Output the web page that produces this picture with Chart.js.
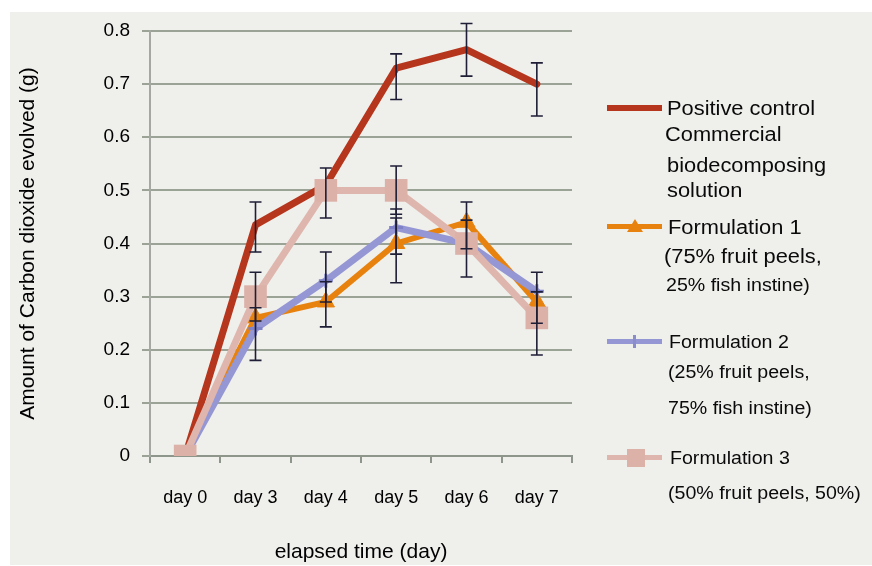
<!DOCTYPE html>
<html><head><meta charset="utf-8">
<script src="https://cdn.jsdelivr.net/npm/chart.js@4/dist/chart.umd.min.js"></script>
<style>
html,body{margin:0;padding:0;background:#fff;}
#wrap{position:relative;width:872px;height:566px;overflow:hidden;}
#bg{position:absolute;left:10px;top:12px;width:862px;height:553px;background:#efefec;}
canvas{position:absolute;left:0;top:0;}
.lg{position:absolute;font-family:"Liberation Sans",Arial,sans-serif;color:#0a0a0a;white-space:nowrap;transform:scaleX(1.12);transform-origin:0 50%;line-height:24px;height:24px;}
.sym{position:absolute;}
</style></head><body>
<div id="wrap"><div id="bg"></div><canvas id="c" width="872" height="566"></canvas><div id="legend"></div></div>
<script>
// ---- data ----
const categories = ['day 0', 'day 3', 'day 4', 'day 5', 'day 6', 'day 7'];
const yTickLabels = ['0', '0.1', '0.2', '0.3', '0.4', '0.5', '0.6', '0.7', '0.8'];

const positiveControl = [0, 0.435, 0.51, 0.73, 0.765, 0.70];
const positiveLow     = [null, 0.384, null, 0.671, 0.715, 0.64];
const positiveHigh    = [null, 0.478, null, 0.757, 0.814, 0.74];

const formulation1     = [0, 0.26, 0.29, 0.40, 0.44, 0.29];
const formulation1Low  = [null, null, 0.243, 0.326, 0.39, null];
const formulation1High = [null, null, 0.328, 0.448, 0.478, null];

const formulation2     = [0, 0.24, 0.33, 0.43, 0.40, 0.31];
const formulation2Low  = [null, 0.18, 0.29, 0.38, null, 0.25];
const formulation2High = [null, 0.279, 0.384, 0.465, null, 0.346];

const formulation3     = [0, 0.30, 0.50, 0.50, 0.40, 0.26];
const formulation3Low  = [null, 0.254, 0.448, 0.455, 0.337, 0.19];
const formulation3High = [null, 0.346, 0.542, 0.546, 0.444, 0.309];

const legendPositive = ['Positive control', 'Commercial', 'biodecomposing', 'solution'];
const legendF1 = ['Formulation 1', '(75% fruit peels,', '25% fish instine)'];
const legendF2 = ['Formulation 2', '(25% fruit peels,', '75% fish instine)'];
const legendF3 = ['Formulation 3', '(50% fruit peels, 50%)'];

const xTitle = 'elapsed time (day)';
const yTitle = 'Amount of Carbon dioxide evolved (g)';

// ---- styling ----
const FAMILY = '"Liberation Sans", Arial, sans-serif';
const C_RED = '#b5361c', C_ORANGE = '#e8820f', C_BLUE = '#9597d5', C_PINK = '#dfb6ad';

const errSets = [
  {low: positiveLow, high: positiveHigh},
  {low: formulation1Low, high: formulation1High},
  {low: formulation2Low, high: formulation2High},
  {low: formulation3Low, high: formulation3High}
];

const errorBarPlugin = {
  id: 'errbars',
  afterDatasetsDraw(chart) {
    const {ctx, scales: {x, y}} = chart;
    ctx.save();
    ctx.strokeStyle = '#1e1e36';
    ctx.lineWidth = 1.6;
    errSets.forEach(s => {
      s.low.forEach((lo, i) => {
        const hi = s.high[i];
        if (lo == null || hi == null) return;
        const px = x.getPixelForValue(i);
        const y1 = y.getPixelForValue(lo), y2 = y.getPixelForValue(hi);
        ctx.beginPath();
        ctx.moveTo(px, y1); ctx.lineTo(px, y2);
        ctx.moveTo(px - 6, y1); ctx.lineTo(px + 6, y1);
        ctx.moveTo(px - 6, y2); ctx.lineTo(px + 6, y2);
        ctx.stroke();
      });
    });
    ctx.restore();
  }
};

new Chart(document.getElementById('c'), {
  type: 'line',
  data: {
    labels: categories,
    datasets: [
      {label: legendPositive.join(' '), data: positiveControl, borderColor: C_RED, backgroundColor: C_RED,
       borderWidth: 7, pointRadius: 0, order: 4},
      {label: legendF1.join(' '), data: formulation1, borderColor: C_ORANGE, backgroundColor: C_ORANGE,
       borderWidth: 6, pointStyle: 'triangle', pointRadius: 10, pointBorderWidth: 1, order: 3},
      {label: legendF2.join(' '), data: formulation2, borderColor: C_BLUE, backgroundColor: C_BLUE,
       borderWidth: 7, pointStyle: 'cross', pointRadius: 7, pointBorderWidth: 3, pointBorderColor: '#7f82c6', order: 2},
      {label: legendF3.join(' '), data: formulation3, borderColor: C_PINK, backgroundColor: '#dcb1a8',
       borderWidth: 7, pointStyle: 'rect', pointRadius: 16, pointBorderWidth: 0, order: 1}
    ]
  },
  options: {
    responsive: false,
    animation: false,
    devicePixelRatio: 1,
    elements: {line: {tension: 0, borderJoinStyle: 'round', borderCapStyle: 'round'}},
    layout: {padding: {left: 10, top: 31, right: 300, bottom: 0}},
    plugins: {legend: {display: false}, tooltip: {enabled: false}},
    scales: {
      x: {
        type: 'category', offset: true,
        grid: {offset: true, drawOnChartArea: false, drawTicks: true, tickLength: 7, color: '#8e968c', lineWidth: 2},
        border: {display: true, color: '#8e968c', width: 2},
        ticks: {padding: 24, font: {family: FAMILY, size: 18}, color: '#000', maxRotation: 0, autoSkip: false},
        title: {display: true, text: xTitle, font: {family: FAMILY, size: 21}, color: '#000', padding: {top: 0, bottom: 1}},
        afterFit(s) { s.height = 110; }
      },
      y: {
        min: 0, max: 0.8,
        ticks: {stepSize: 0.1, padding: 12, font: {family: FAMILY, size: 19}, color: '#000',
                callback: (v, i) => yTickLabels[i]},
        grid: {color: '#9ba397', lineWidth: 2, tickLength: 8, drawTicks: true},
        border: {display: true, color: '#a5a8a2', width: 2},
        title: {display: true, text: yTitle, font: {family: FAMILY, size: 21}, color: '#000', padding: {top: 6, bottom: 0}},
        afterFit(s) { s.width = 140; }
      }
    }
  },
  plugins: [errorBarPlugin]
});

// ---- legend (HTML text) ----
const legend = document.getElementById('legend');
function addText(txt, x, cy, size) {
  const d = document.createElement('div');
  d.className = 'lg';
  d.textContent = txt;
  d.style.left = x + 'px';
  d.style.top = (cy - 12) + 'px';
  d.style.fontSize = size + 'px';
  legend.appendChild(d);
}
function addBox(x, y, w, h, color, extra) {
  const d = document.createElement('div');
  d.className = 'sym';
  d.style.left = x + 'px'; d.style.top = y + 'px';
  d.style.width = w + 'px'; d.style.height = h + 'px';
  d.style.background = color;
  if (extra) Object.assign(d.style, extra);
  legend.appendChild(d);
}
// red
addBox(607, 105, 55, 6, C_RED);
[108, 134, 165, 190].forEach((cy, i) => addText(legendPositive[i], i === 1 ? 665 : 667, cy, 19.5));
// orange
addBox(607, 224, 55, 5, C_ORANGE);
addBox(627, 219, 0, 0, 'transparent', {borderLeft: '8px solid transparent', borderRight: '8px solid transparent', borderBottom: '13px solid ' + C_ORANGE});
[[227, 668, 19.5], [256, 664, 19.5], [285, 666, 17.5]].forEach((p, i) => addText(legendF1[i], p[1], p[0], p[2]));
// blue
addBox(607, 339, 55, 5, C_BLUE);
addBox(633, 335, 3, 13, '#8a8dcc');
[[342, 669, 17.5], [372, 668, 17.5], [408, 668, 17.5]].forEach((p, i) => addText(legendF2[i], p[1], p[0], p[2]));
// pink
addBox(607, 455, 55, 5, C_PINK);
addBox(627, 449, 18, 18, '#dcb1a8');
[[458, 670, 17.5], [493, 668, 17.5]].forEach((p, i) => addText(legendF3[i], p[1], p[0], p[2]));
</script>
</body></html>
